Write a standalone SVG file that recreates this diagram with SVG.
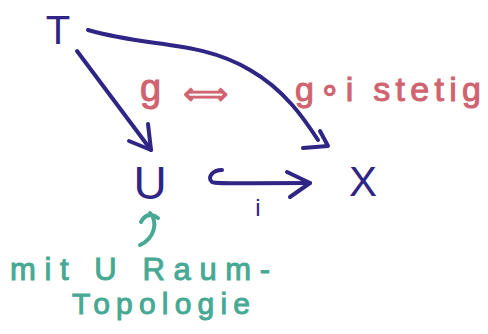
<svg xmlns="http://www.w3.org/2000/svg" width="488" height="334" viewBox="0 0 488 334">
<style>
.n{fill:#2f2585;font-family:"Liberation Sans","DejaVu Sans",sans-serif;text-anchor:middle}
.p{fill:#d0636f;stroke:#d0636f;stroke-width:1;font-family:"Liberation Sans","DejaVu Sans",sans-serif}
.t{fill:#47a994;stroke:#47a994;stroke-width:1;font-family:"Liberation Sans","DejaVu Sans",sans-serif}
.c{fill:none;stroke:#2f2585;stroke-width:4;stroke-linecap:round;stroke-linejoin:round}
.ct{fill:none;stroke:#47a994;stroke-width:4;stroke-linecap:round;stroke-linejoin:round}
</style>
<rect width="488" height="334" fill="#ffffff"/>
<g id="connectors">
<path class="c" d="M77,51 L151,150"/>
<path class="c" d="M129,141 L151,150 L148,124"/>
<path class="c" d="M88,30 C150,48 200,40 250,70 C285,90 305,120 318,140"/>
<path class="c" d="M303,148 L328,146 L320,131"/>
<path class="c" d="M222,170 C212,170 207,178 212,182 C216,184 230,183 310,183"/>
<path class="c" d="M287,172 L310,183 L290,197"/>
<path class="ct" d="M140,245 C155,238 158,222 150,213"/>
<path class="ct" d="M141,222 C144,216 150,212 158,218"/>
</g>
<g id="node-T"><text class="n" x="58" y="44" font-size="40">T</text></g>
<g id="node-U"><text class="n" x="150" y="199" font-size="46">U</text></g>
<g id="node-X"><text class="n" x="363" y="196" font-size="42">X</text></g>
<g id="label-i"><text class="n" x="258" y="216" font-size="24">i</text></g>
<g id="label-g"><text class="p" x="140" y="101" font-size="38">g</text>
<text class="p" x="183" y="104" font-size="30" stroke-width="2" textLength="45" lengthAdjust="spacingAndGlyphs" font-family="DejaVu Sans">⟺</text></g>
<g id="label-goi"><text class="p" x="295" y="101" font-size="34" textLength="186" lengthAdjust="spacing">g∘i stetig</text></g>
<g id="label-topologie"><text class="t" x="10" y="280" font-size="31" textLength="260" lengthAdjust="spacing">mit U Raum-</text>
<text class="t" x="72" y="314" font-size="30" textLength="178" lengthAdjust="spacing">Topologie</text></g>
</svg>
